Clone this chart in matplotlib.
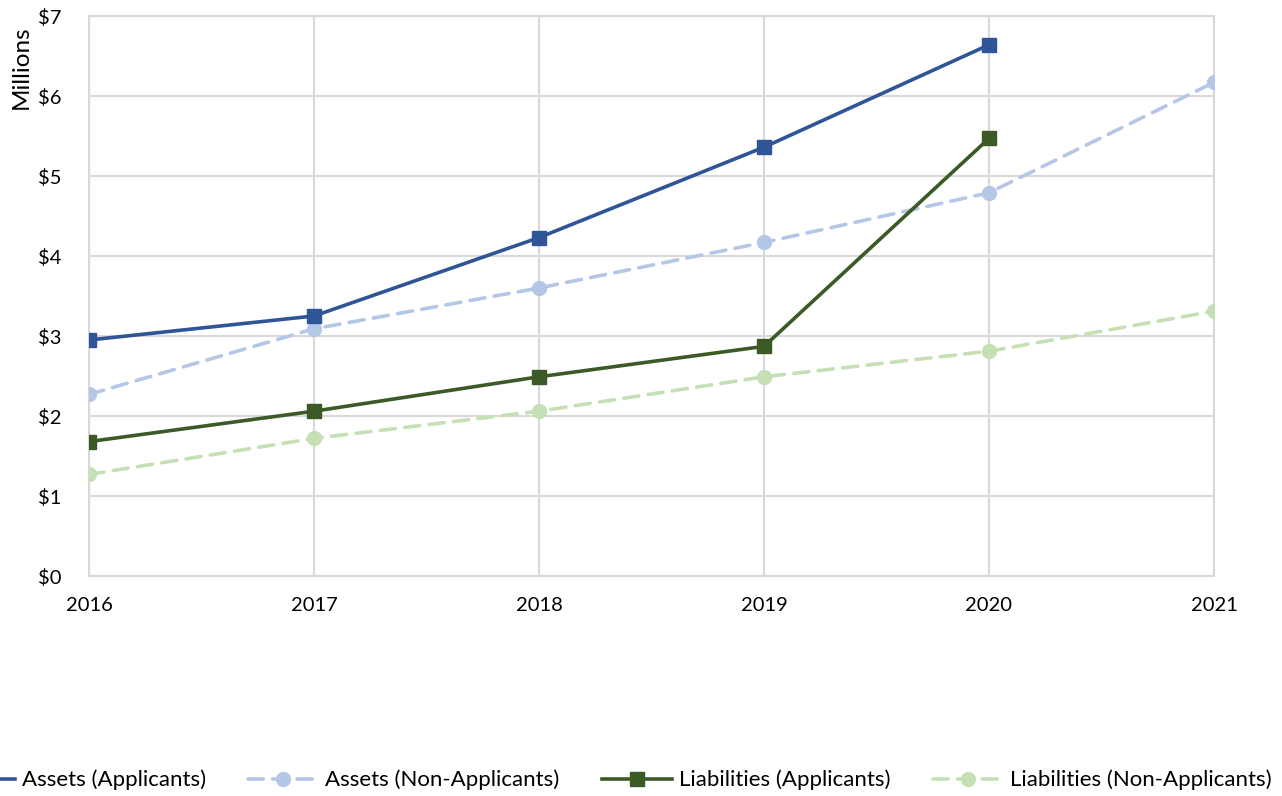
import matplotlib.pyplot as plt
from matplotlib.ticker import FuncFormatter

# ---- data (millions of dollars) ----
years = [2016, 2017, 2018, 2019, 2020, 2021]
assets_app = [2.95, 3.25, 4.23, 5.36, 6.64]
assets_non = [2.27, 3.09, 3.60, 4.17, 4.79, 6.17]
liab_app = [1.68, 2.06, 2.49, 2.87, 5.47]
liab_non = [1.27, 1.72, 2.06, 2.49, 2.81, 3.31]

plt.rcParams["font.family"] = ["Lato", "DejaVu Sans"]

dark_blue = "#2F5597"
light_blue = "#B4C7E7"
dark_green = "#3B5A26"
light_green = "#C5E0B4"
grid_col = "#D9D9D9"

fig = plt.figure(figsize=(12.82, 7.96), dpi=100)
ax = fig.add_axes([89 / 1282, 1 - 576 / 796, (1214 - 89) / 1282, (576 - 16) / 796])

lw = 2.6
dash = (4.2, 2.6)

ax.plot(years[:5], assets_app, color=dark_blue, lw=lw, marker="s", ms=10,
        label="Assets (Applicants)", zorder=4)
ax.plot(years, assets_non, color=light_blue, lw=lw, ls=(0, dash), marker="o", ms=10,
        dash_capstyle="round", label="Assets (Non-Applicants)", zorder=3)
ax.plot(years[:5], liab_app, color=dark_green, lw=lw, marker="s", ms=10,
        label="Liabilities (Applicants)", zorder=4)
ax.plot(years, liab_non, color=light_green, lw=lw, ls=(0, dash), marker="o", ms=10,
        dash_capstyle="round", label="Liabilities (Non-Applicants)", zorder=3)

ax.set_xlim(2016, 2021)
ax.set_ylim(0, 7)
ax.set_xticks(years)
ax.set_yticks(range(8))
ax.yaxis.set_major_formatter(FuncFormatter(lambda v, _: f"${v:.0f}"))
ax.grid(True, color=grid_col, lw=1.5)
ax.set_axisbelow(True)
for s in ax.spines.values():
    s.set_color(grid_col)
    s.set_linewidth(1.5)
ax.tick_params(length=0, labelsize=14.5, colors="black")
ax.tick_params(axis="x", pad=15)
ax.tick_params(axis="y", pad=20)

fig.text(21 / 1282, 1 - 67 / 796, "Millions", rotation=90, ha="center", va="center",
         fontsize=17.5)

# legend is wider than the figure; the first handle runs off the left edge
fig.legend(loc="center", bbox_to_anchor=(608 / 1282, 1 - 780 / 796), ncol=4,
           frameon=False, fontsize=16, handlelength=3.15, columnspacing=1.9,
           handletextpad=0.32)

fig.savefig("out.png", dpi=100, facecolor="white")
